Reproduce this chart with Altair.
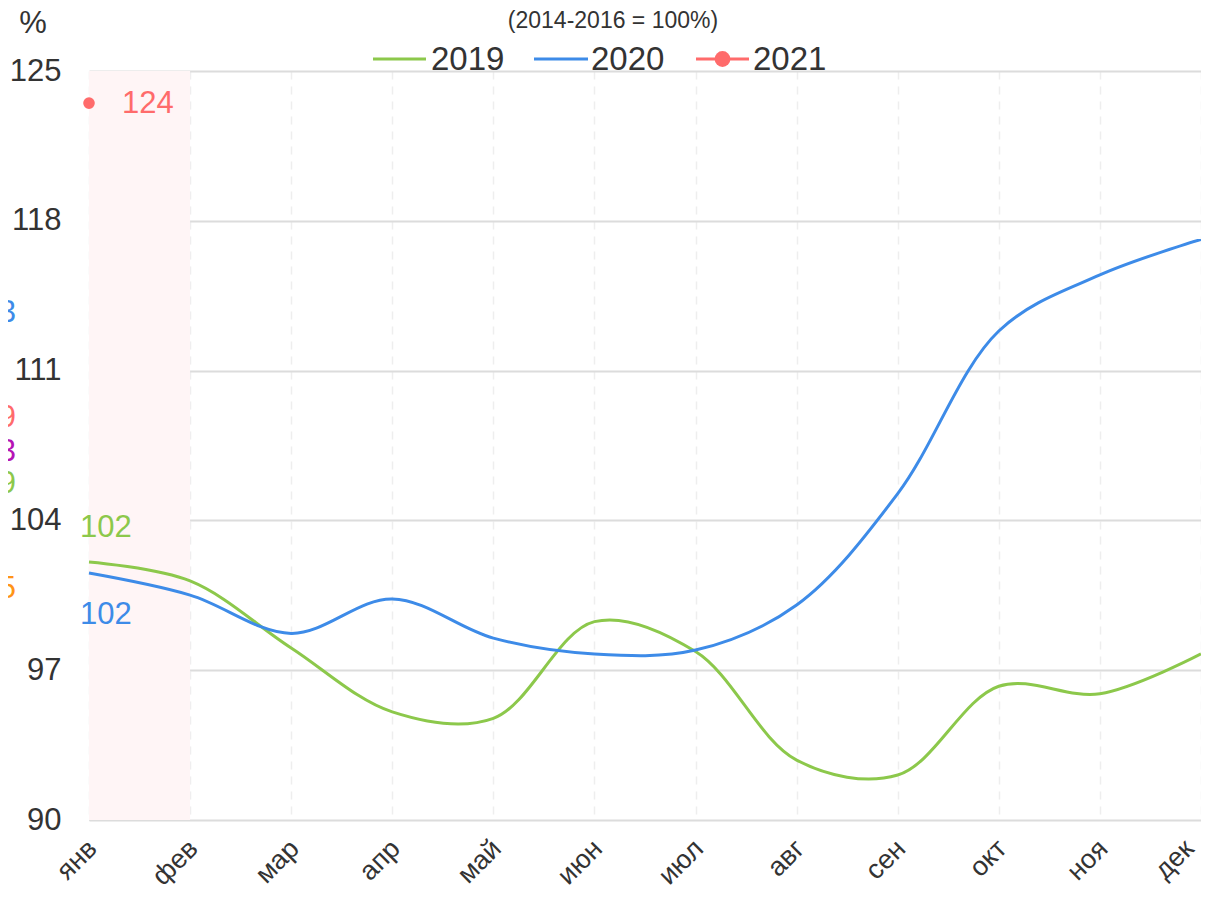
import json
import altair as alt
import pandas as pd

# ---------------- data ----------------
months = ["янв", "фев", "мар", "апр", "май", "июн", "июл", "авг", "сен", "окт", "ноя", "дек"]
years = ["2019", "2020", "2021"]
v2019 = [102.06, 101.17, 98.04, 95.05, 94.75, 99.27, 97.87, 92.8, 92.1, 96.25, 95.9, 97.76]
v2020 = [101.54, 100.51, 98.72, 100.33, 98.5, 97.76, 97.94, 100.05, 105.25, 112.85, 115.47, 117.13]
v2021 = [123.5]
y_ticks = [90, 97, 104, 111, 118, 125]
subtitle = "(2014-2016 = 100%)"
unit = "%"
# highlighted period (янв..фев)
band_from = ["янв"]
band_to = ["фев"]
# labels of other series, cut off at the left page edge
edge_texts = ["113", "109", "103", "109", "105"]
edge_values = [113.7, 108.8, 107.2, 105.7, 100.8]

# ---------------- styles ----------------
colors = {"2019": "#8cc84b", "2020": "#3d8be8", "2021": "#ff6b6b"}
edge_colors = ["#3d8be8", "#ff6b6b", "#b514b5", "#8cc84b", "#ff9416"]
FONT = "Liberation Sans"
TXT = "#333333"
W, H = 1112, 749

rows = []
for y, vals in (("2019", v2019), ("2020", v2020), ("2021", v2021)):
    for i, v in enumerate(vals):
        rows.append({"m": i, "year": y, "v": v})
df = pd.DataFrame(rows)

xscale = alt.Scale(domain=[0, len(months) - 1], nice=False, zero=False)
yscale = alt.Scale(domain=[y_ticks[0], y_ticks[-1]], nice=False, zero=False)
label_expr = json.dumps(months, ensure_ascii=False) + "[datum.value]"

xaxis = alt.Axis(
    values=list(range(len(months))), labelExpr=label_expr, title=None,
    grid=True, gridDash=[8, 7], gridColor="#eeeeee", gridWidth=1.5,
    domain=False, ticks=False, labelAngle=-45, labelAlign="right",
    labelBaseline="top", labelPadding=15,
    labelOffset={"condition": {"test": f"datum.value == {len(months) - 1}", "value": -21}, "value": -6},
    labelFontSize=27, labelColor=TXT, labelFont=FONT,
)
yaxis = alt.Axis(
    values=y_ticks, title=None, grid=True, gridColor="#dcdcdc", gridWidth=2,
    domain=False, ticks=False, labelPadding=28, labelFontSize=31,
    labelColor=TXT, labelFont=FONT,
)

band_df = pd.DataFrame({
    "a": [months.index(b) for b in band_from],
    "b": [months.index(b) for b in band_to],
    "lo": [y_ticks[0]] * len(band_from),
    "hi": [y_ticks[-1]] * len(band_from),
})
band = alt.Chart(band_df).mark_rect(color="#fff5f6").encode(
    x=alt.X("a:Q", scale=xscale, axis=xaxis),
    x2="b:Q",
    y=alt.Y("lo:Q", scale=yscale, axis=yaxis),
    y2="hi:Q",
)

cscale = alt.Scale(domain=years, range=[colors[y] for y in years])
lines = alt.Chart(df[df.year != "2021"]).mark_line(
    interpolate="catmull-rom", strokeWidth=3
).encode(
    x=alt.X("m:Q", scale=xscale),
    y=alt.Y("v:Q", scale=yscale),
    color=alt.Color("year:N", scale=cscale, legend=None),
)
pt = alt.Chart(df[df.year == "2021"]).mark_circle(size=135, opacity=1, color=colors["2021"]).encode(
    x=alt.X("m:Q", scale=xscale),
    y=alt.Y("v:Q", scale=yscale),
)

def val_label(year, dx, dy, align):
    d = df[(df.year == year) & (df.m == 0)].copy()
    d["t"] = d["v"].round().astype(int).astype(str)
    return alt.Chart(d).mark_text(
        font=FONT, fontSize=31, color=colors[year], dx=dx, dy=dy, align=align, baseline="middle"
    ).encode(x=alt.X("m:Q", scale=xscale), y=alt.Y("v:Q", scale=yscale), text="t:N")

labels = [
    val_label("2019", -9, -34, "left"),
    val_label("2020", -9, 42, "left"),
    val_label("2021", 33, 1, "left"),
]

edge_df = pd.DataFrame({"t": edge_texts, "v": edge_values, "c": edge_colors})
edge = alt.Chart(edge_df).mark_text(font=FONT, fontSize=31, align="right", baseline="middle").encode(
    x=alt.value(-73), y=alt.Y("v:Q", scale=yscale), text="t:N",
    color=alt.Color("c:N", scale=None),
)

# ---------------- legend + titles (pixel layout) ----------------
leg_line_x = [(284, 337), (445, 499), (607, 660)]
leg_text_x = [342, 502, 664]
LEG_Y = -12
one = pd.DataFrame({"k": [0]})
extra = []
for (x1, x2), tx, y in zip(leg_line_x, leg_text_x, years):
    extra.append(alt.Chart(one).mark_rule(color=colors[y], strokeWidth=3).encode(
        x=alt.value(x1), x2=alt.value(x2), y=alt.value(LEG_Y)))
    extra.append(alt.Chart(one).mark_text(
        text=y, font=FONT, fontSize=33, color=TXT, align="left", baseline="middle"
    ).encode(x=alt.value(tx), y=alt.value(LEG_Y + 1)))
extra.append(alt.Chart(one).mark_circle(size=250, opacity=1, color=colors["2021"]).encode(
    x=alt.value((leg_line_x[2][0] + leg_line_x[2][1]) / 2), y=alt.value(LEG_Y)))
extra.append(alt.Chart(one).mark_text(
    text=subtitle, font=FONT, fontSize=23, color=TXT, align="center", baseline="middle"
).encode(x=alt.value(524), y=alt.value(-50)))
extra.append(alt.Chart(one).mark_text(
    text=unit, font=FONT, fontSize=31, color=TXT, align="center", baseline="middle"
).encode(x=alt.value(-56), y=alt.value(-47)))

chart = alt.layer(band, lines, pt, *labels, edge, *extra).properties(
    width=W, height=H,
    padding={"left": 81, "top": 63, "right": 0, "bottom": 75},
    autosize=alt.AutoSizeParams(type="none"),
).configure_view(stroke=None).configure(font=FONT)

chart.save("out.html", embed_options={"renderer": "svg", "actions": False})
